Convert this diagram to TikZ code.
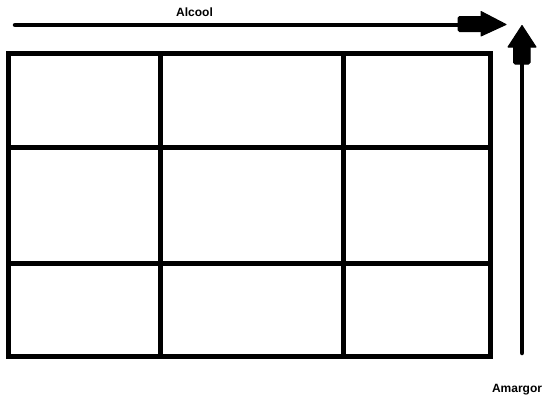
\documentclass[tikz,border=0pt]{standalone}
\usepackage{fontspec}
\setmainfont{Liberation Sans}
\begin{document}
\begin{tikzpicture}[x=1pt,y=-1pt,
  gridline/.style={line width=5pt,line cap=rect},
  axisline/.style={line width=4.5pt,line cap=round},
  headfill/.style={fill=black,draw=black,line width=1pt,line join=round},
  lbl/.style={font=\bfseries\fontsize{12}{14}\selectfont,inner sep=0pt}]
\useasboundingbox (0,0) rectangle (554,405);
% grid
\draw[gridline] (8.5,53) rectangle (490.5,356);
\draw[gridline] (160.5,53) -- (160.5,356);
\draw[gridline] (343.5,53) -- (343.5,356);
\draw[gridline] (8.5,147) -- (490.5,147);
\draw[gridline] (8.5,263) -- (490.5,263);
% horizontal axis
\coordinate (hs) at (15,25);
\coordinate (he) at (460,25);
\draw[axisline] (hs) -- (he);
\filldraw[headfill,rounded corners=1.5pt] (458,16.5) rectangle (482,31.5);
\filldraw[headfill] (481,11.5) -- (506,24.5) -- (481,36) -- cycle;
% vertical axis
\coordinate (vs) at (522,353);
\coordinate (ve) at (522,60);
\draw[axisline] (vs) -- (ve);
\filldraw[headfill,rounded corners=1.5pt] (513.5,64) rectangle (530,46);
\filldraw[headfill] (508,47) -- (522,25.5) -- (536,47) -- cycle;
% labels
\node[lbl,anchor=base] (alc) at (194.5,16) {Alcool};
\node[lbl,anchor=base] (ama) at (517,392) {Amargor};
\end{tikzpicture}
\end{document}
